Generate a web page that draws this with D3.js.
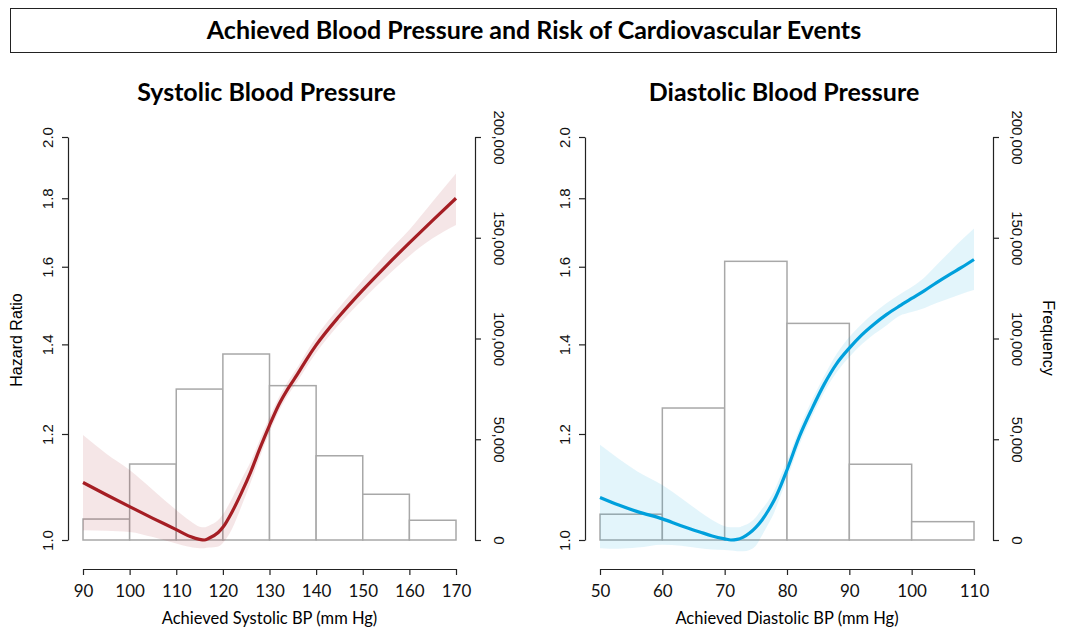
<!DOCTYPE html>
<html>
<head>
<meta charset="utf-8">
<script src="https://cdn.jsdelivr.net/npm/d3@7"></script>
<style>
  body { margin: 0; background: #fff; }
  svg { display: block; }
</style>
</head>
<body>
<svg id="chart" width="1067" height="636"></svg>
<script>
// ---- data ----
var hrTicks = [1.0, 1.2, 1.4, 1.6, 1.8, 2.0];
var freqTicks = [0, 50000, 100000, 150000, 200000];

// systolic
var sbpTicks = [90, 100, 110, 120, 130, 140, 150, 160, 170];
var sbpBins = [90, 100, 110, 120, 130, 140, 150, 160];   // bin starts, width 10
var sbpCounts = [10400, 37700, 74900, 92300, 76600, 41800, 22700, 9800];
var sbpX = [90, 95, 100, 105, 110, 113, 115, 116, 117, 119, 120, 122, 124, 126, 128, 130, 132, 134, 136, 138, 140, 145, 150, 155, 160, 165, 170];
var sbpHR = [1.104, 1.081, 1.059, 1.038, 1.018, 1.006, 1.001, 1.000, 1.003, 1.013, 1.022, 1.050, 1.085, 1.125, 1.172, 1.218, 1.262, 1.298, 1.330, 1.365, 1.398, 1.470, 1.537, 1.602, 1.667, 1.733, 1.800];
var sbpLo = [1.017, 1.016, 1.014, 1.005, 0.994, 0.988, 0.986, 0.986, 0.987, 0.989, 0.995, 1.020, 1.060, 1.105, 1.155, 1.203, 1.247, 1.283, 1.314, 1.348, 1.380, 1.450, 1.512, 1.572, 1.630, 1.680, 1.719];
var sbpHi = [1.198, 1.160, 1.128, 1.090, 1.053, 1.033, 1.023, 1.022, 1.025, 1.035, 1.045, 1.075, 1.110, 1.145, 1.190, 1.235, 1.278, 1.314, 1.346, 1.383, 1.418, 1.492, 1.563, 1.635, 1.705, 1.790, 1.878];

// diastolic
var dbpTicks = [50, 60, 70, 80, 90, 100, 110];
var dbpBins = [50, 60, 70, 80, 90, 100];
var dbpCounts = [12800, 65500, 138300, 107500, 37600, 9100];
var dbpX = [50, 53, 56, 60, 63, 66, 68, 70, 71, 72, 73, 74, 75, 76, 77, 78, 79, 80, 82, 84, 86, 88, 90, 92, 94, 96, 98, 100, 102, 104, 106, 108, 110];
var dbpHR = [1.076, 1.062, 1.050, 1.037, 1.025, 1.014, 1.007, 1.002, 1.000, 1.001, 1.005, 1.012, 1.022, 1.035, 1.052, 1.072, 1.098, 1.128, 1.195, 1.253, 1.308, 1.355, 1.391, 1.423, 1.450, 1.474, 1.495, 1.515, 1.535, 1.557, 1.578, 1.598, 1.620];
var dbpLo = [0.986, 0.985, 0.987, 0.992, 0.990, 0.986, 0.984, 0.983, 0.982, 0.981, 0.981, 0.983, 0.990, 1.008, 1.028, 1.050, 1.080, 1.110, 1.178, 1.236, 1.290, 1.335, 1.370, 1.400, 1.425, 1.447, 1.470, 1.480, 1.490, 1.503, 1.515, 1.527, 1.537];
var dbpHi = [1.178, 1.150, 1.125, 1.099, 1.075, 1.050, 1.035, 1.024, 1.022, 1.022, 1.025, 1.030, 1.040, 1.055, 1.070, 1.090, 1.118, 1.146, 1.212, 1.272, 1.327, 1.378, 1.418, 1.450, 1.478, 1.503, 1.525, 1.545, 1.570, 1.605, 1.640, 1.675, 1.709];

var svg = d3.select("#chart");
var tickFont = "'Liberation Sans', Arial, sans-serif";
var titleFont = "Lato, 'Open Sans', sans-serif";

// overall title in a box
svg.append("rect")
    .attr("x", 10.5).attr("y", 8.5)
    .attr("width", 1046).attr("height", 44)
    .attr("fill", "none").attr("stroke", "#222").attr("stroke-width", 1);
svg.append("text")
    .attr("x", 534).attr("y", 39)
    .attr("text-anchor", "middle")
    .style("font-family", titleFont).style("font-weight", "bold").style("font-size", "25px")
    .text("Achieved Blood Pressure and Risk of Cardiovascular Events");

var y = d3.scaleLog().domain([1, 2]).range([540, 137]);
var yFreq = d3.scaleLinear().domain([0, 200000]).range([540, 137]);

function styleAxis(g) {
    g.select(".domain").attr("stroke", "#222").attr("stroke-width", 1.2);
    g.selectAll(".tick line").attr("stroke", "#222").attr("stroke-width", 1.2);
    g.selectAll(".tick text").attr("fill", "#111");
}

function drawPanel(p) {
    var x = d3.scaleLinear().domain(p.domain).range(p.range);
    var g = svg.append("g");

    g.append("text")
        .attr("x", (p.range[0] + p.range[1]) / 2 - 3).attr("y", 101)
        .attr("text-anchor", "middle")
        .style("font-family", titleFont).style("font-weight", "bold").style("font-size", "25px")
        .text(p.title);

    // histogram
    g.append("g").selectAll("rect")
        .data(p.bins)
        .join("rect")
        .attr("x", function(d) { return x(d); })
        .attr("y", function(d, i) { return yFreq(p.counts[i]); })
        .attr("width", function(d) { return x(d + 10) - x(d); })
        .attr("height", function(d, i) { return yFreq(0) - yFreq(p.counts[i]); })
        .attr("fill", "#fff")
        .attr("stroke", "#a8a8a8")
        .attr("stroke-width", 1.5);

    var pts = p.xs.map(function(v, i) { return {x: v, hr: p.hr[i], lo: p.lo[i], hi: p.hi[i]}; });

    var area = d3.area()
        .x(function(d) { return x(d.x); })
        .y0(function(d) { return y(d.lo); })
        .y1(function(d) { return y(d.hi); })
        .curve(d3.curveMonotoneX);
    g.append("path")
        .datum(pts)
        .attr("d", area)
        .attr("fill", p.color)
        .attr("fill-opacity", 0.11);

    var line = d3.line()
        .x(function(d) { return x(d.x); })
        .y(function(d) { return y(d.hr); })
        .curve(d3.curveMonotoneX);
    g.append("path")
        .datum(pts)
        .attr("d", line)
        .attr("fill", "none")
        .attr("stroke", p.color)
        .attr("stroke-width", 3.2);

    // x axis
    var xa = g.append("g")
        .attr("transform", "translate(0,569)")
        .call(d3.axisBottom(x).tickValues(p.ticks).tickSize(6).tickSizeOuter(0).tickPadding(10));
    styleAxis(xa);
    xa.selectAll(".tick text")
        .style("font-family", titleFont).style("font-size", "17px");
    g.append("text")
        .attr("x", (p.range[0] + p.range[1]) / 2).attr("y", 624)
        .attr("text-anchor", "middle")
        .style("font-family", titleFont).style("font-size", "16.5px")
        .text(p.xlabel);

    // left HR axis
    var ya = g.append("g")
        .attr("transform", "translate(" + (p.range[0] - 15) + ",0)")
        .call(d3.axisLeft(y).tickValues(hrTicks).tickFormat(d3.format(".1f")).tickSize(6).tickSizeOuter(0));
    styleAxis(ya);
    ya.selectAll(".tick text")
        .attr("x", 0).attr("dy", 0)
        .attr("transform", "translate(-21,0) rotate(-90)")
        .attr("text-anchor", "middle")
        .attr("dominant-baseline", "central")
        .style("font-family", tickFont).style("font-size", "15px");

    // right frequency axis
    var fa = g.append("g")
        .attr("transform", "translate(" + (p.range[1] + 19) + ",0)")
        .call(d3.axisRight(yFreq).tickValues(freqTicks).tickFormat(d3.format(",")).tickSize(6).tickSizeOuter(0));
    styleAxis(fa);
    fa.selectAll(".tick text")
        .attr("x", 0).attr("dy", 0)
        .attr("transform", "translate(24,0) rotate(90)")
        .attr("text-anchor", "middle")
        .attr("dominant-baseline", "central")
        .style("font-family", tickFont).style("font-size", "15px");

    if (p.leftLabel) {
        g.append("text")
            .attr("transform", "translate(16,340) rotate(-90)")
            .attr("text-anchor", "middle")
            .attr("dominant-baseline", "central")
            .style("font-family", tickFont).style("font-size", "16px")
            .text(p.leftLabel);
    }
    if (p.rightLabel) {
        g.append("text")
            .attr("transform", "translate(1048,338) rotate(90)")
            .attr("text-anchor", "middle")
            .attr("dominant-baseline", "central")
            .style("font-family", tickFont).style("font-size", "16px")
            .text(p.rightLabel);
    }
}

drawPanel({
    title: "Systolic Blood Pressure",
    xlabel: "Achieved Systolic BP (mm Hg)",
    domain: [90, 170], range: [83, 456],
    ticks: sbpTicks, bins: sbpBins, counts: sbpCounts,
    xs: sbpX, hr: sbpHR, lo: sbpLo, hi: sbpHi,
    color: "#a51e24",
    leftLabel: "Hazard Ratio"
});

drawPanel({
    title: "Diastolic Blood Pressure",
    xlabel: "Achieved Diastolic BP (mm Hg)",
    domain: [50, 110], range: [600, 974],
    ticks: dbpTicks, bins: dbpBins, counts: dbpCounts,
    xs: dbpX, hr: dbpHR, lo: dbpLo, hi: dbpHi,
    color: "#00a0dc",
    rightLabel: "Frequency"
});
</script>
</body>
</html>
